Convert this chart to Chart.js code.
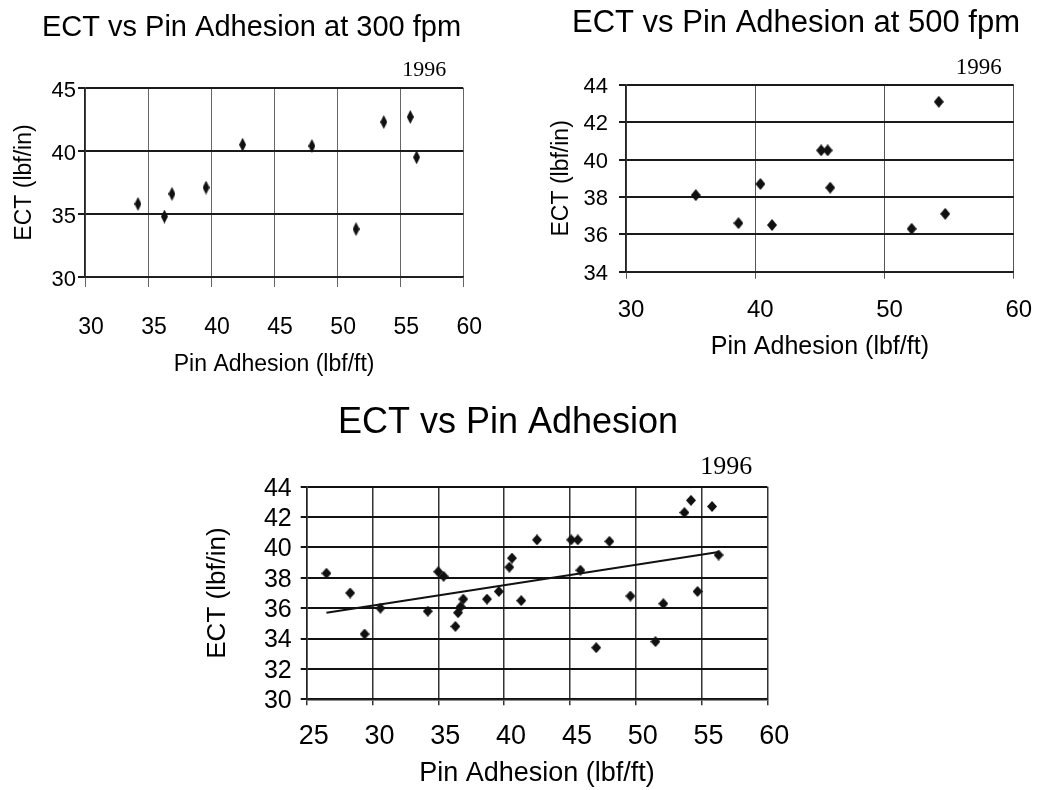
<!DOCTYPE html>
<html>
<head>
<meta charset="utf-8">
<title>ECT vs Pin Adhesion</title>
<script src="https://cdn.jsdelivr.net/npm/chart.js@4.4.1/dist/chart.umd.min.js"></script>
<style>
  html, body { margin: 0; padding: 0; background: #fff; overflow: hidden; width: 1044px; height: 790px; }
  canvas { position: absolute; }
</style>
</head>
<body>
<canvas id="c300" width="503" height="390" style="left:0;top:0"></canvas>
<canvas id="c500" width="496" height="380" style="left:548px;top:0"></canvas>
<canvas id="call" width="616" height="400" style="left:200px;top:390px"></canvas>
<script>
// values
const pin300 = [34.2, 36.3, 36.9, 39.6, 42.5, 48.0, 51.5, 53.7, 55.8, 56.3];
const ect300 = [35.8, 34.8, 36.6, 37.1, 40.5, 40.4, 33.8, 42.3, 42.7, 39.5];

const pin500 = [35.4, 38.7, 40.4, 41.3, 45.1, 45.6, 45.8, 52.1, 54.2, 54.7];
const ect500 = [38.1, 36.6, 38.7, 36.5, 40.5, 40.5, 38.5, 36.3, 43.1, 37.1];

// extra points that only show up in the combined plot
const pinOther = [26.5, 28.3, 29.4, 30.6, 35.0, 36.5, 36.7, 40.6, 47.0, 49.6];
const ectOther = [38.3, 37.0, 34.3, 36.0, 38.4, 35.7, 36.1, 39.3, 33.4, 36.8];

// trend line ends as drawn in the figure
const trendX = [26.5, 56.3];
const trendY = [35.7, 39.7];

const yearLabel = '1996';

Chart.defaults.font.family = '"Liberation Sans", Arial, sans-serif';
Chart.defaults.color = '#000';

function pts(xs, ys) {
  return xs.map((x, i) => ({ x: x, y: ys[i] }));
}

function diamond(w, h) {
  const c = document.createElement('canvas');
  c.width = w; c.height = h;
  const g = c.getContext('2d');
  g.fillStyle = '#111';
  g.beginPath();
  g.moveTo(w / 2, 0);
  g.lineTo(w, h / 2);
  g.lineTo(w / 2, h);
  g.lineTo(0, h / 2);
  g.closePath();
  g.fill();
  return c;
}

// title + "1996" note, placed where the scan has them
const notes = {
  id: 'notes',
  afterDraw(chart, args, opts) {
    const ctx = chart.ctx, a = chart.chartArea;
    ctx.save();
    ctx.fillStyle = '#000';
    ctx.textBaseline = 'middle';
    ctx.textAlign = 'center';
    ctx.font = opts.titleSize + 'px "Liberation Sans", Arial, sans-serif';
    ctx.fillText(opts.title, opts.titleX, opts.titleY);
    ctx.textAlign = 'right';
    ctx.font = opts.yearSize + 'px "Liberation Serif", "Times New Roman", serif';
    ctx.fillText(yearLabel, a.right - opts.yearDx, a.top - opts.yearDy);
    ctx.restore();
  }
};

function makeChart(id, datasets, o) {
  return new Chart(document.getElementById(id), {
    type: 'scatter',
    data: { datasets: datasets },
    plugins: [notes],
    options: {
      responsive: false,
      animation: false,
      layout: { padding: { top: o.padTop, right: o.padRight, bottom: 0, left: 0 } },
      plugins: {
        legend: { display: false },
        tooltip: { enabled: false },
        title: { display: false },
        notes: {
          title: o.title, titleSize: o.titleSize, titleX: o.titleX, titleY: o.titleY,
          yearSize: o.yearSize, yearDx: o.yearDx, yearDy: o.yearDy
        }
      },
      scales: {
        x: {
          type: 'linear',
          min: o.xMin, max: o.xMax,
          afterFit: s => { s.height = o.xHeight; },
          ticks: { stepSize: o.xStep, autoSkip: false, font: { size: o.xTick }, padding: o.xPad, labelOffset: o.xShift, maxRotation: 0 },
          grid: { color: o.vColor, lineWidth: o.vWidth, tickLength: o.xTickLen },
          border: { color: '#222', width: 1.5 },
          title: { display: true, text: 'Pin Adhesion (lbf/ft)', font: { size: o.xTitle }, padding: { top: 0, bottom: o.xTitlePad } }
        },
        y: {
          type: 'linear',
          min: o.yMin, max: o.yMax,
          afterFit: s => { s.width = o.yWidth; },
          ticks: { stepSize: o.yStep, autoSkip: false, font: { size: o.yTick }, padding: o.yPad, labelOffset: o.yShift },
          grid: { color: o.hColor, lineWidth: o.hWidth, tickLength: o.yTickLen },
          border: { color: '#222', width: 1.5 },
          title: { display: true, text: 'ECT (lbf/in)', font: { size: o.yTitle }, padding: { top: o.yTitlePad, bottom: 0 } }
        }
      }
    }
  });
}

makeChart('c300', [{
  data: pts(pin300, ect300),
  pointStyle: diamond(7, 14),
  pointRadius: 6
}], {
  title: 'ECT vs Pin Adhesion at 300 fpm', titleSize: 29, titleX: 251.5, titleY: 27.5,
  padTop: 88, padRight: 36, yearSize: 22, yearDx: 17, yearDy: 18,
  xMin: 30, xMax: 60, xStep: 5, xHeight: 113, xTick: 23, xPad: 27, xShift: 6, xTickLen: 10,
  xTitle: 23, xTitlePad: 11.2, vColor: '#666', vWidth: 1,
  yMin: 30, yMax: 45, yStep: 5, yWidth: 85, yTick: 22, yPad: 2, yShift: 3, yTickLen: 7,
  yTitle: 23, yTitlePad: 11.2, hColor: '#1a1a1a', hWidth: 2
});

makeChart('c500', [{
  data: pts(pin500, ect500),
  pointStyle: diamond(10, 12),
  pointRadius: 6
}], {
  title: 'ECT vs Pin Adhesion at 500 fpm', titleSize: 31, titleX: 248, titleY: 23,
  padTop: 85, padRight: 25, yearSize: 23, yearDx: 12, yearDy: 17,
  xMin: 30, xMax: 60, xStep: 10, xHeight: 108.3, xTick: 24, xPad: 16.9, xShift: 5, xTickLen: 7,
  xTitle: 25, xTitlePad: 18.3, vColor: '#555', vWidth: 1,
  yMin: 34, yMax: 44, yStep: 2, yWidth: 78, yTick: 22, yPad: 11, yShift: 2, yTickLen: 7,
  yTitle: 23, yTitlePad: 0, hColor: '#1a1a1a', hWidth: 2
});

makeChart('call', [{
  data: pts(pin300.concat(pin500, pinOther), ect300.concat(ect500, ectOther)),
  pointStyle: diamond(10, 11),
  pointRadius: 6
}, {
  data: pts(trendX, trendY),
  showLine: true,
  borderColor: '#111',
  borderWidth: 2,
  pointRadius: 0
}], {
  title: 'ECT vs Pin Adhesion', titleSize: 36, titleX: 308, titleY: 33,
  padTop: 96.7, padRight: 48.7, yearSize: 26, yearDx: 15, yearDy: 20,
  xMin: 25, xMax: 60, xStep: 5, xHeight: 90.7, xTick: 27, xPad: 15.2, xShift: 7, xTickLen: 6,
  xTitle: 27, xTitlePad: 0, vColor: '#333', vWidth: 1.5,
  yMin: 30, yMax: 44, yStep: 2, yWidth: 106.7, yTick: 25, yPad: 9, yShift: 2, yTickLen: 6,
  yTitle: 26, yTitlePad: 2.4, hColor: '#111', hWidth: 2
});
</script>
</body>
</html>
